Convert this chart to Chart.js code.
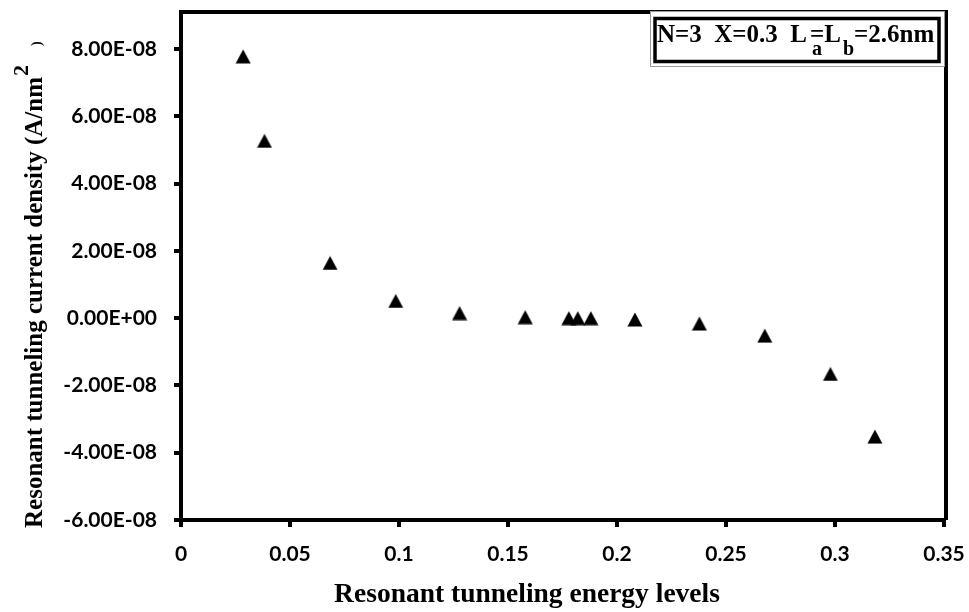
<!DOCTYPE html>
<html>
<head>
<meta charset="utf-8">
<script src="https://cdn.jsdelivr.net/npm/chart.js@4"></script>
<style>
  html, body { margin: 0; padding: 0; background: #fff; }
  #wrap { width: 969px; height: 612px; }
</style>
</head>
<body>
<div id="wrap"><canvas id="rtChart" width="969" height="612"></canvas></div>
<script>
// values
const energyLevels = [0.0285, 0.0383, 0.0684, 0.0985, 0.1278, 0.1579, 0.1779, 0.1820, 0.1880, 0.2082, 0.2378, 0.2678, 0.2979, 0.3183];
const currentDensity = [7.78e-8, 5.27e-8, 1.64e-8, 0.51e-8, 0.15e-8, 0.03e-8, 0.0, 0.0, 0.0, -0.04e-8, -0.16e-8, -0.52e-8, -1.66e-8, -3.52e-8];

const xTicks = [0, 0.05, 0.1, 0.15, 0.2, 0.25, 0.3, 0.35];
const xTickLabels = ['0', '0.05', '0.1', '0.15', '0.2', '0.25', '0.3', '0.35'];
const yTicks = [-6e-8, -4e-8, -2e-8, 0, 2e-8, 4e-8, 6e-8, 8e-8];
const yTickLabels = ['-6.00E-08', '-4.00E-08', '-2.00E-08', '0.00E+00', '2.00E-08', '4.00E-08', '6.00E-08', '8.00E-08'];
const yMin = -6e-8;
const yMax = 9.1e-8;

const xTitle = 'Resonant tunneling energy levels';
const yTitle = 'Resonant tunneling current density (A/nm';

const tickFont = { family: 'Lato', size: 21, weight: 'bold' };
const FAM = '"Liberation Serif"';

// triangle marker centred on its point (Chart.js' own triangle sits a bit high)
const marker = document.createElement('canvas');
marker.width = 16;
marker.height = 15;
{
    const m = marker.getContext('2d');
    m.fillStyle = '#000';
    m.beginPath();
    m.moveTo(8, 0.5);
    m.lineTo(15.5, 14.5);
    m.lineTo(0.5, 14.5);
    m.closePath();
    m.fill();
}

// no extra room for overhanging labels, the chart area is pinned by padding
const noPad = s => { s.paddingTop = 0; s.paddingBottom = 0; s.paddingLeft = 0; s.paddingRight = 0; };

// top/right frame, axis titles and the parameter box
const decorations = {
    id: 'decorations',
    afterDraw(chart) {
        const { ctx, chartArea: a } = chart;
        ctx.save();

        ctx.strokeStyle = '#000';
        ctx.lineWidth = 4;
        ctx.beginPath();
        ctx.moveTo(a.left, a.top);
        ctx.lineTo(a.right + 2, a.top);
        ctx.lineTo(a.right + 2, a.bottom);
        ctx.stroke();

        ctx.fillStyle = '#000';
        ctx.textBaseline = 'alphabetic';

        // x title
        ctx.font = 'bold 27.5px ' + FAM;
        ctx.textAlign = 'center';
        ctx.fillText(xTitle, 527, 602);

        // y title, rotated
        ctx.save();
        ctx.translate(42, 528);
        ctx.rotate(-Math.PI / 2);
        ctx.textAlign = 'left';
        ctx.font = 'bold 25px ' + FAM;
        ctx.fillText(yTitle, 0, 0);
        const w1 = ctx.measureText(yTitle).width;
        ctx.font = 'bold 22px ' + FAM;
        ctx.fillText('2', w1 + 1, -14);
        ctx.font = 'bold 14px ' + FAM;
        ctx.fillText(')', w1 + 31, -1);
        ctx.restore();

        // parameter box
        ctx.fillStyle = '#fff';
        ctx.fillRect(650, 11, 294, 56);
        ctx.strokeStyle = '#9a9a9a';
        ctx.lineWidth = 1;
        ctx.strokeRect(650.5, 11.5, 294, 55);
        ctx.strokeStyle = '#000';
        ctx.lineWidth = 3.5;
        ctx.strokeRect(655, 18.5, 284, 43);

        ctx.fillStyle = '#000';
        ctx.textAlign = 'left';
        const main = 'bold 25px ' + FAM;
        const sub = 'bold 20px ' + FAM;
        let x = 657;
        const put = (s, font, y, dx) => {
            ctx.font = font;
            ctx.fillText(s, x + (dx || 0), y);
            return ctx.measureText(s).width;
        };
        x += put('N=3  X=0.3  L', main, 42);
        x += 3;
        put('a', sub, 55, 2);
        x += put('=', main, 42);
        x += put('L', main, 42);
        x += 2;
        x += put('b', sub, 55);
        put('=2.6nm', main, 42);

        ctx.restore();
    }
};

new Chart(document.getElementById('rtChart'), {
    type: 'scatter',
    data: {
        datasets: [{
            data: energyLevels.map((e, i) => ({ x: e, y: currentDensity[i] })),
            pointStyle: marker,
            pointRadius: 8,
            backgroundColor: '#000',
            borderColor: '#000',
            borderWidth: 0
        }]
    },
    options: {
        responsive: false,
        animation: false,
        layout: { padding: { left: 0, right: 25, top: 12, bottom: 0 } },
        plugins: {
            legend: { display: false },
            tooltip: { enabled: false }
        },
        scales: {
            x: {
                type: 'linear',
                min: 0,
                max: 0.35,
                afterBuildTicks: s => { s.ticks = xTicks.map(v => ({ value: v })); },
                afterFit: s => { s.height = 92; noPad(s); },
                ticks: {
                    callback: (v, i) => xTickLabels[i],
                    font: tickFont,
                    color: '#000',
                    padding: 15,
                    maxRotation: 0,
                    autoSkip: false
                },
                grid: {
                    drawOnChartArea: false,
                    drawTicks: true,
                    tickLength: 7,
                    lineWidth: 4,
                    color: '#000'
                },
                border: { color: '#000', width: 4 }
            },
            y: {
                type: 'linear',
                min: yMin,
                max: yMax,
                afterBuildTicks: s => { s.ticks = yTicks.map(v => ({ value: v })); },
                afterFit: s => { s.width = 181; noPad(s); },
                ticks: {
                    callback: (v, i) => yTickLabels[i],
                    font: tickFont,
                    color: '#000',
                    padding: 17,
                    autoSkip: false
                },
                grid: {
                    drawOnChartArea: false,
                    drawTicks: true,
                    tickLength: 7,
                    lineWidth: 4,
                    color: '#000'
                },
                border: { color: '#000', width: 4 }
            }
        }
    },
    plugins: [decorations]
});
</script>
</body>
</html>
